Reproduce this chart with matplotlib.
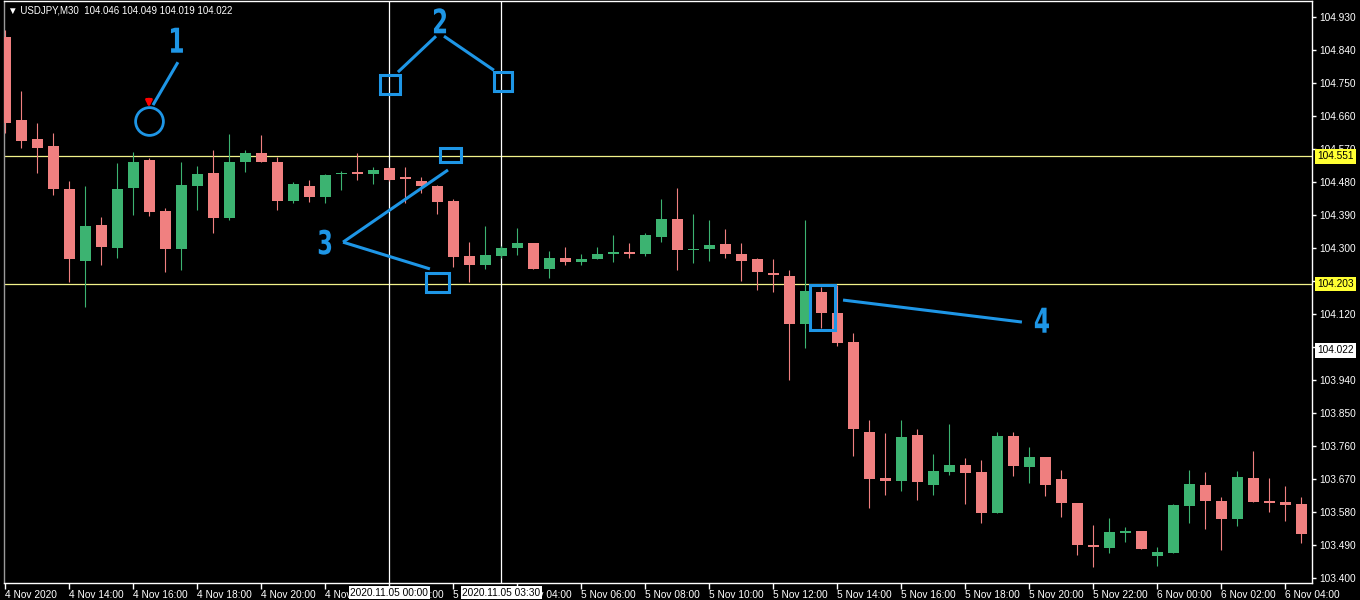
import matplotlib
matplotlib.use("Agg")
import matplotlib.pyplot as plt
from matplotlib.patches import Rectangle, PathPatch
from matplotlib.textpath import TextPath
from matplotlib.font_manager import FontProperties
from matplotlib.transforms import blended_transform_factory, Affine2D

# USDJPY M30, 4 Nov 2020 12:00 -> 6 Nov 2020 04:30
opens = [104.877, 104.650, 104.598, 104.579, 104.461, 104.266, 104.363, 104.302, 104.464, 104.540,
         104.402, 104.297, 104.471, 104.507, 104.384, 104.536, 104.559, 104.536, 104.430, 104.471,
         104.439, 104.502, 104.508, 104.503, 104.518, 104.494, 104.484, 104.470, 104.429, 104.279,
         104.254, 104.279, 104.302, 104.314, 104.244, 104.274, 104.263, 104.272, 104.284, 104.291,
         104.284, 104.332, 104.380, 104.295, 104.299, 104.311, 104.286, 104.271, 104.233, 104.226,
         104.093, 104.182, 104.125, 104.044, 103.798, 103.673, 103.665, 103.790, 103.655, 103.691,
         103.708, 103.689, 103.579, 103.788, 103.704, 103.730, 103.670, 103.605, 103.491, 103.483,
         103.524, 103.529, 103.462, 103.470, 103.598, 103.654, 103.611, 103.561, 103.673, 103.611,
         103.607, 103.602]
highs = [104.895, 104.730, 104.643, 104.614, 104.484, 104.471, 104.385, 104.532, 104.564, 104.546,
         104.409, 104.536, 104.525, 104.568, 104.612, 104.568, 104.610, 104.550, 104.482, 104.486,
         104.503, 104.512, 104.559, 104.523, 104.522, 104.523, 104.495, 104.473, 104.436, 104.318,
         104.361, 104.306, 104.355, 104.314, 104.293, 104.304, 104.284, 104.304, 104.336, 104.314,
         104.341, 104.435, 104.465, 104.395, 104.377, 104.354, 104.316, 104.275, 104.270, 104.241,
         104.377, 104.195, 104.200, 104.068, 103.832, 103.795, 103.832, 103.807, 103.739, 103.821,
         103.729, 103.723, 103.798, 103.798, 103.759, 103.730, 103.695, 103.605, 103.545, 103.565,
         103.541, 103.529, 103.486, 103.603, 103.695, 103.690, 103.621, 103.693, 103.747, 103.673,
         103.652, 103.623]
lows = [104.614, 104.573, 104.506, 104.445, 104.209, 104.140, 104.255, 104.273, 104.391, 104.388,
        104.236, 104.241, 104.404, 104.343, 104.377, 104.509, 104.536, 104.404, 104.423, 104.427,
        104.423, 104.459, 104.486, 104.477, 104.484, 104.423, 104.450, 104.395, 104.250, 104.209,
        104.243, 104.274, 104.282, 104.245, 104.218, 104.255, 104.255, 104.270, 104.263, 104.273,
        104.279, 104.318, 104.241, 104.259, 104.266, 104.274, 104.211, 104.186, 104.181, 103.941,
        104.027, 104.084, 104.034, 103.734, 103.591, 103.627, 103.638, 103.614, 103.627, 103.682,
        103.603, 103.550, 103.579, 103.679, 103.659, 103.624, 103.568, 103.464, 103.430, 103.470,
        103.500, 103.479, 103.434, 103.470, 103.550, 103.534, 103.477, 103.543, 103.607, 103.582,
        103.557, 103.497]
closes = [104.643, 104.594, 104.575, 104.461, 104.270, 104.361, 104.303, 104.461, 104.537, 104.400,
          104.297, 104.472, 104.503, 104.384, 104.537, 104.559, 104.536, 104.430, 104.475, 104.439,
          104.500, 104.506, 104.504, 104.514, 104.486, 104.488, 104.471, 104.427, 104.277, 104.256,
          104.282, 104.300, 104.314, 104.245, 104.275, 104.263, 104.271, 104.284, 104.290, 104.284,
          104.336, 104.380, 104.295, 104.299, 104.308, 104.284, 104.266, 104.236, 104.228, 104.094,
          104.184, 104.125, 104.041, 103.806, 103.670, 103.666, 103.785, 103.662, 103.693, 103.708,
          103.688, 103.579, 103.788, 103.707, 103.730, 103.655, 103.605, 103.491, 103.485, 103.525,
          103.529, 103.479, 103.471, 103.600, 103.657, 103.612, 103.561, 103.675, 103.607, 103.606,
          103.601, 103.521]

time_labels = ["4 Nov 2020", "4 Nov 14:00", "4 Nov 16:00", "4 Nov 18:00", "4 Nov 20:00",
               "4 Nov 22:00", "5 Nov 00:00", "5 Nov 02:00", "5 Nov 04:00", "5 Nov 06:00",
               "5 Nov 08:00", "5 Nov 10:00", "5 Nov 12:00", "5 Nov 14:00", "5 Nov 16:00",
               "5 Nov 18:00", "5 Nov 20:00", "5 Nov 22:00", "6 Nov 00:00", "6 Nov 02:00",
               "6 Nov 04:00"]
time_label_bars = [0, 4, 8, 12, 16, 20, 24, 28, 32, 36, 40, 44, 48, 52, 56, 60, 64, 68, 72, 76, 80]

price_ticks = [104.930, 104.840, 104.750, 104.660, 104.570, 104.480, 104.390, 104.300, 104.210,
               104.120, 104.030, 103.940, 103.850, 103.760, 103.670, 103.580, 103.490, 103.400]
hidden_ticks = [104.210, 104.030]    # covered by the price labels in the terminal

hlines = [104.551, 104.203]          # yellow horizontal levels
last_price = 104.022
vlines = [24, 31]                    # bar indices of the two vertical lines
vline_labels = ["2020.11.05 00:00", "2020.11.05 03:30"]
header = "\u25BC USDJPY,M30  104.046 104.049 104.019 104.022"

BULL = "#3cb371"
BEAR = "#f08080"
BLUE = "#1e96e6"
YEL = "#f2f28a"
FONT = ["Liberation Sans", "DejaVu Sans"]

plt.rcParams["font.family"] = FONT

fig = plt.figure(figsize=(13.6, 6), dpi=100, facecolor="black")
ax = fig.add_axes([4 / 1360, 17 / 600, 1308 / 1360, 582 / 600])
ax.set_facecolor("black")

n = len(opens)
xs = list(range(n))
colors = [BULL if c >= o else BEAR for o, c in zip(opens, closes)]
bottoms = [min(o, c) for o, c in zip(opens, closes)]
heights = [max(abs(c - o), 0.004) for o, c in zip(opens, closes)]

ax.vlines(xs, lows, highs, colors=colors, linewidth=0.8, zorder=3)
ax.bar(xs, heights, bottom=bottoms, width=0.66, color=colors, linewidth=0, zorder=4)

ax.set_xlim(-0.08, 81.67)
ax.set_ylim(103.387, 104.975)

# levels and cursor lines
for lv in hlines:
    ax.axhline(lv, color=YEL, linewidth=0.9, zorder=2)
for v in vlines:
    ax.axvline(v, color="white", linewidth=0.9, zorder=2)

# axes styling
for s in ax.spines.values():
    s.set_color("white")
    s.set_linewidth(1)
ax.spines["left"].set_color("#9a9a9a")

ax.yaxis.tick_right()
ax.set_yticks(price_ticks)
ax.set_yticklabels(["" if p in hidden_ticks else f"{p:.3f}" for p in price_ticks])
ax.tick_params(axis="y", colors="white", labelcolor="white", length=3, width=1,
               pad=2, labelsize=7.3)
ax.set_xticks(time_label_bars)
ax.set_xticklabels(time_labels)
ax.tick_params(axis="x", colors="white", labelcolor="white", length=4, width=1,
               pad=1, labelsize=7.3)
for lbl in ax.get_xticklabels():
    lbl.set_horizontalalignment("left")

# price labels on the right scale
ty = blended_transform_factory(ax.transAxes, ax.transData)
for lv in hlines:
    ax.text(1.004, lv, f"{lv:.3f}", transform=ty, ha="left", va="center", fontsize=7.3,
            color="black", zorder=20, clip_on=False,
            bbox=dict(boxstyle="square,pad=0.22", facecolor="#ffff33", edgecolor="none"))
ax.text(1.004, last_price, f"{last_price:.3f}", transform=ty, ha="left", va="center",
        fontsize=7.3, color="black", zorder=20, clip_on=False,
        bbox=dict(boxstyle="square,pad=0.22", facecolor="white", edgecolor="none"))

# time labels of the vertical lines
tx = blended_transform_factory(ax.transData, ax.transAxes)
for v, lab in zip(vlines, vline_labels):
    ax.text(v, -0.0165, lab, transform=tx, ha="center", va="center", fontsize=7.3,
            color="black", zorder=20, clip_on=False,
            bbox=dict(boxstyle="square,pad=0.15", facecolor="white", edgecolor="none"))

# header
ax.text(0.003, 0.983, header, transform=ax.transAxes, ha="left", va="center",
        fontsize=7.0, color="white", family=FONT, zorder=20)

# blue annotations
line_style = dict(color=BLUE, linewidth=2.2, zorder=21, solid_capstyle="butt")
num_prop = FontProperties(family="DejaVu Sans", weight="bold")


def number(xc, pc, s, height_px=25, squeeze=0.68):
    """Narrow, heavy digit (like the Impact labels drawn in the screenshot)."""
    tp = TextPath((0, 0), s, size=10, prop=num_prop)
    bb = tp.get_extents()
    k = height_px / bb.height
    cx, cy = ax.transData.transform((xc, pc))
    tr = (Affine2D().translate(-(bb.x0 + bb.width / 2), -(bb.y0 + bb.height / 2))
          .scale(k * squeeze, k).translate(cx, cy))
    fig.patches.append(PathPatch(tp, transform=tr, facecolor=BLUE, edgecolor="none",
                                 zorder=21, figure=fig))


def box(xc, pc, w, h):
    ax.add_patch(Rectangle((xc - w / 2, pc - h / 2), w, h, fill=False, edgecolor=BLUE,
                           linewidth=2.2, zorder=21))


# 1: sell arrow
number(10.73, 104.868, "1")
ax.plot([10.79, 9.23], [104.808, 104.691], **line_style)
ax.plot([8.98], [104.647], marker="o", markersize=20, markerfacecolor="none",
        markeredgecolor=BLUE, markeredgewidth=2.0, zorder=21)
ax.annotate("", xy=(8.98, 104.677), xytext=(8.98, 104.715),
            arrowprops=dict(arrowstyle="-|>", color="red", lw=2.0, mutation_scale=9),
            zorder=22)

# 2: vertical lines
number(27.17, 104.921, "2")
ax.plot([26.92, 24.54], [104.879, 104.781], **line_style)
ax.plot([27.42, 30.54], [104.879, 104.786], **line_style)
box(24.04, 104.747, 1.25, 0.052)
box(31.1, 104.755, 1.12, 0.052)

# 3: horizontal levels
number(19.98, 104.317, "3")
ax.plot([21.11, 27.67], [104.317, 104.514], **line_style)
ax.plot([21.11, 26.54], [104.317, 104.244], **line_style)
box(27.83, 104.554, 1.3, 0.038)
box(27.0, 104.207, 1.44, 0.052)

# 4: signal bar
number(64.79, 104.104, "4")
ax.plot([52.36, 63.54], [104.159, 104.099], **line_style)
box(51.08, 104.139, 1.56, 0.123)

fig.savefig("out.png", dpi=100, facecolor="black")
